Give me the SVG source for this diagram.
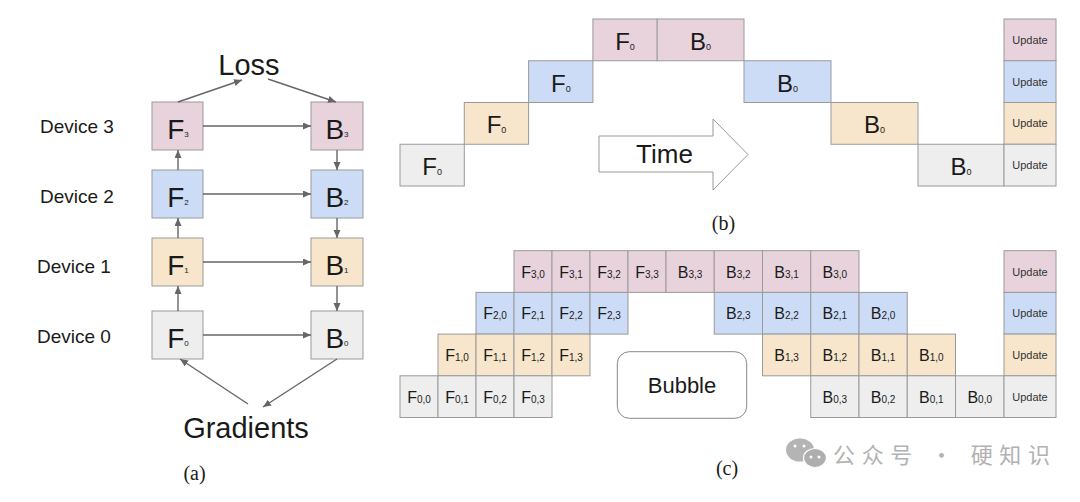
<svg xmlns="http://www.w3.org/2000/svg" width="1080" height="502" viewBox="0 0 1080 502">
<defs>
<style>
.pk{fill:#e8d3dc;stroke:#9a9a9a;stroke-width:1}
.bl{fill:#cddcf6;stroke:#9a9a9a;stroke-width:1}
.or{fill:#f7e6cb;stroke:#9a9a9a;stroke-width:1}
.gy{fill:#eeeeee;stroke:#9a9a9a;stroke-width:1}
text{font-family:"Liberation Sans",Arial,sans-serif;fill:#1a1a1a}
.a{font-size:28px;text-anchor:middle}
.b{font-size:24px;text-anchor:middle}
.c{font-size:16px;text-anchor:middle}
.s8{font-size:8px}
.s9{font-size:9px}
.s10{font-size:10px}
.up{font-size:11px;text-anchor:middle;fill:#333}
.dev{font-size:19px}
.big{font-size:29px;text-anchor:middle}
.cap{font-family:"Liberation Serif","Times New Roman",serif;font-size:20px;text-anchor:middle}
.ln{stroke:#666;stroke-width:1.4;fill:none;marker-end:url(#ah)}
</style>
<marker id="ah" markerUnits="userSpaceOnUse" markerWidth="9" markerHeight="8" refX="8" refY="3.5" orient="auto">
<path d="M0,0 L8,3.5 L0,7 z" fill="#666"/>
</marker>
</defs>
<rect width="1080" height="502" fill="#ffffff"/>

<!-- (a) -->
<g id="a-labels">
<text class="dev" x="40" y="133">Device 3</text>
<text class="dev" x="40" y="203">Device 2</text>
<text class="dev" x="37" y="273">Device 1</text>
<text class="dev" x="37" y="343">Device 0</text>
</g>
<g id="loss"><text class="big" x="249" y="75">Loss</text></g>
<g id="gradients"><text class="big" x="246" y="438">Gradients</text></g>
<g id="a-F3"><rect class="pk" x="152" y="102" width="51" height="48"/><text class="a" x="178" y="139">F<tspan class="s8" dy="-2">3</tspan></text></g>
<g id="a-F2"><rect class="bl" x="152" y="170" width="51" height="48"/><text class="a" x="178" y="207">F<tspan class="s8" dy="-2">2</tspan></text></g>
<g id="a-F1"><rect class="or" x="152" y="238" width="51" height="48"/><text class="a" x="178" y="275">F<tspan class="s8" dy="-2">1</tspan></text></g>
<g id="a-F0"><rect class="gy" x="152" y="311" width="51" height="48"/><text class="a" x="178" y="348">F<tspan class="s8" dy="-2">0</tspan></text></g>
<g id="a-B3"><rect class="pk" x="311" y="102" width="52" height="48"/><text class="a" x="337" y="139">B<tspan class="s8" dy="-2">3</tspan></text></g>
<g id="a-B2"><rect class="bl" x="311" y="170" width="52" height="48"/><text class="a" x="337" y="207">B<tspan class="s8" dy="-2">2</tspan></text></g>
<g id="a-B1"><rect class="or" x="311" y="238" width="52" height="48"/><text class="a" x="337" y="275">B<tspan class="s8" dy="-2">1</tspan></text></g>
<g id="a-B0"><rect class="gy" x="311" y="311" width="52" height="48"/><text class="a" x="337" y="348">B<tspan class="s8" dy="-2">0</tspan></text></g>
<g id="connectors">
<line class="ln" x1="203" y1="126" x2="311" y2="126"/>
<line class="ln" x1="203" y1="194" x2="311" y2="194"/>
<line class="ln" x1="203" y1="262" x2="311" y2="262"/>
<line class="ln" x1="203" y1="335" x2="311" y2="335"/>
<line class="ln" x1="178" y1="311" x2="178" y2="286"/>
<line class="ln" x1="178" y1="238" x2="178" y2="218"/>
<line class="ln" x1="178" y1="170" x2="178" y2="150"/>
<line class="ln" x1="337" y1="150" x2="337" y2="170"/>
<line class="ln" x1="337" y1="218" x2="337" y2="238"/>
<line class="ln" x1="337" y1="286" x2="337" y2="311"/>
<line class="ln" x1="178" y1="102" x2="242" y2="80"/>
<line class="ln" x1="268" y1="79" x2="336" y2="102"/>
<line class="ln" x1="248" y1="404" x2="180" y2="359"/>
<line class="ln" x1="337" y1="359" x2="263" y2="407"/>
</g>
<text class="cap" x="194.5" y="480">(a)</text>

<!-- (b) -->
<g id="b-F0-d0"><rect class="gy" x="400" y="144.25" width="64.3" height="41.75"/><text class="b" x="432.2" y="175">F<tspan class="s9">0</tspan></text></g>
<g id="b-F0-d1"><rect class="or" x="464.3" y="102.5" width="64.3" height="41.75"/><text class="b" x="496.5" y="133.3">F<tspan class="s9">0</tspan></text></g>
<g id="b-F0-d2"><rect class="bl" x="528.6" y="60.75" width="64.3" height="41.75"/><text class="b" x="560.8" y="91.5">F<tspan class="s9">0</tspan></text></g>
<g id="b-F0-d3"><rect class="pk" x="592.9" y="19" width="64.3" height="41.75"/><text class="b" x="625" y="49.8">F<tspan class="s9">0</tspan></text></g>
<g id="b-B0-d3"><rect class="pk" x="657.2" y="19" width="86.8" height="41.75"/><text class="b" x="700.6" y="49.8">B<tspan class="s9">0</tspan></text></g>
<g id="b-B0-d2"><rect class="bl" x="744" y="60.75" width="87" height="41.75"/><text class="b" x="787.5" y="91.5">B<tspan class="s9">0</tspan></text></g>
<g id="b-B0-d1"><rect class="or" x="831" y="102.5" width="87" height="41.75"/><text class="b" x="874.5" y="133.3">B<tspan class="s9">0</tspan></text></g>
<g id="b-B0-d0"><rect class="gy" x="918" y="144.25" width="86" height="41.75"/><text class="b" x="961" y="175">B<tspan class="s9">0</tspan></text></g>
<g id="b-U3"><rect class="pk" x="1004" y="19" width="52" height="41.75"/><text class="up" x="1030" y="43.8">Update</text></g>
<g id="b-U2"><rect class="bl" x="1004" y="60.75" width="52" height="41.75"/><text class="up" x="1030" y="85.5">Update</text></g>
<g id="b-U1"><rect class="or" x="1004" y="102.5" width="52" height="41.75"/><text class="up" x="1030" y="127.3">Update</text></g>
<g id="b-U0"><rect class="gy" x="1004" y="144.25" width="52" height="41.75"/><text class="up" x="1030" y="169">Update</text></g>
<g id="time-arrow"><polygon points="599,136 713,136 713,119 748,154.5 713,190 713,172 599,172" fill="#ffffff" stroke="#999" stroke-width="1"/><text x="664.5" y="163" style="font-size:26px;text-anchor:middle">Time</text></g>
<text class="cap" x="723.5" y="230">(b)</text>

<!-- (c) -->
<g id="c-row3">
<g id="c-F30"><rect class="pk" x="514" y="250.7" width="38" height="41.7"/><text class="c" x="533" y="277.5">F<tspan class="s10">3,0</tspan></text></g>
<g id="c-F31"><rect class="pk" x="552" y="250.7" width="38" height="41.7"/><text class="c" x="571" y="277.5">F<tspan class="s10">3,1</tspan></text></g>
<g id="c-F32"><rect class="pk" x="590" y="250.7" width="38" height="41.7"/><text class="c" x="609" y="277.5">F<tspan class="s10">3,2</tspan></text></g>
<g id="c-F33"><rect class="pk" x="628" y="250.7" width="38" height="41.7"/><text class="c" x="647" y="277.5">F<tspan class="s10">3,3</tspan></text></g>
<g id="c-B33"><rect class="pk" x="666" y="250.7" width="48.25" height="41.7"/><text class="c" x="690.1" y="277.5">B<tspan class="s10">3,3</tspan></text></g>
<g id="c-B32"><rect class="pk" x="714.25" y="250.7" width="48.25" height="41.7"/><text class="c" x="738.4" y="277.5">B<tspan class="s10">3,2</tspan></text></g>
<g id="c-B31"><rect class="pk" x="762.5" y="250.7" width="48.25" height="41.7"/><text class="c" x="786.6" y="277.5">B<tspan class="s10">3,1</tspan></text></g>
<g id="c-B30"><rect class="pk" x="810.75" y="250.7" width="48.25" height="41.7"/><text class="c" x="834.9" y="277.5">B<tspan class="s10">3,0</tspan></text></g>
<g id="c-U3"><rect class="pk" x="1004" y="250.7" width="52" height="41.7"/><text class="up" x="1030" y="275.5">Update</text></g>
</g>
<g id="c-row2">
<g id="c-F20"><rect class="bl" x="476" y="292.4" width="38" height="41.7"/><text class="c" x="495" y="319.2">F<tspan class="s10">2,0</tspan></text></g>
<g id="c-F21"><rect class="bl" x="514" y="292.4" width="38" height="41.7"/><text class="c" x="533" y="319.2">F<tspan class="s10">2,1</tspan></text></g>
<g id="c-F22"><rect class="bl" x="552" y="292.4" width="38" height="41.7"/><text class="c" x="571" y="319.2">F<tspan class="s10">2,2</tspan></text></g>
<g id="c-F23"><rect class="bl" x="590" y="292.4" width="38" height="41.7"/><text class="c" x="609" y="319.2">F<tspan class="s10">2,3</tspan></text></g>
<g id="c-B23"><rect class="bl" x="714.25" y="292.4" width="48.25" height="41.7"/><text class="c" x="738.4" y="319.2">B<tspan class="s10">2,3</tspan></text></g>
<g id="c-B22"><rect class="bl" x="762.5" y="292.4" width="48.25" height="41.7"/><text class="c" x="786.6" y="319.2">B<tspan class="s10">2,2</tspan></text></g>
<g id="c-B21"><rect class="bl" x="810.75" y="292.4" width="48.25" height="41.7"/><text class="c" x="834.9" y="319.2">B<tspan class="s10">2,1</tspan></text></g>
<g id="c-B20"><rect class="bl" x="859" y="292.4" width="48.25" height="41.7"/><text class="c" x="883.1" y="319.2">B<tspan class="s10">2,0</tspan></text></g>
<g id="c-U2"><rect class="bl" x="1004" y="292.4" width="52" height="41.7"/><text class="up" x="1030" y="317.2">Update</text></g>
</g>
<g id="c-row1">
<g id="c-F10"><rect class="or" x="438" y="334.1" width="38" height="41.7"/><text class="c" x="457" y="361">F<tspan class="s10">1,0</tspan></text></g>
<g id="c-F11"><rect class="or" x="476" y="334.1" width="38" height="41.7"/><text class="c" x="495" y="361">F<tspan class="s10">1,1</tspan></text></g>
<g id="c-F12"><rect class="or" x="514" y="334.1" width="38" height="41.7"/><text class="c" x="533" y="361">F<tspan class="s10">1,2</tspan></text></g>
<g id="c-F13"><rect class="or" x="552" y="334.1" width="38" height="41.7"/><text class="c" x="571" y="361">F<tspan class="s10">1,3</tspan></text></g>
<g id="c-B13"><rect class="or" x="762.5" y="334.1" width="48.25" height="41.7"/><text class="c" x="786.6" y="361">B<tspan class="s10">1,3</tspan></text></g>
<g id="c-B12"><rect class="or" x="810.75" y="334.1" width="48.25" height="41.7"/><text class="c" x="834.9" y="361">B<tspan class="s10">1,2</tspan></text></g>
<g id="c-B11"><rect class="or" x="859" y="334.1" width="48.25" height="41.7"/><text class="c" x="883.1" y="361">B<tspan class="s10">1,1</tspan></text></g>
<g id="c-B10"><rect class="or" x="907.25" y="334.1" width="48.25" height="41.7"/><text class="c" x="931.4" y="361">B<tspan class="s10">1,0</tspan></text></g>
<g id="c-U1"><rect class="or" x="1004" y="334.1" width="52" height="41.7"/><text class="up" x="1030" y="359">Update</text></g>
</g>
<g id="c-row0">
<g id="c-F00"><rect class="gy" x="400" y="375.8" width="38" height="41.7"/><text class="c" x="419" y="402.6">F<tspan class="s10">0,0</tspan></text></g>
<g id="c-F01"><rect class="gy" x="438" y="375.8" width="38" height="41.7"/><text class="c" x="457" y="402.6">F<tspan class="s10">0,1</tspan></text></g>
<g id="c-F02"><rect class="gy" x="476" y="375.8" width="38" height="41.7"/><text class="c" x="495" y="402.6">F<tspan class="s10">0,2</tspan></text></g>
<g id="c-F03"><rect class="gy" x="514" y="375.8" width="38" height="41.7"/><text class="c" x="533" y="402.6">F<tspan class="s10">0,3</tspan></text></g>
<g id="c-B03"><rect class="gy" x="810.75" y="375.8" width="48.25" height="41.7"/><text class="c" x="834.9" y="402.6">B<tspan class="s10">0,3</tspan></text></g>
<g id="c-B02"><rect class="gy" x="859" y="375.8" width="48.25" height="41.7"/><text class="c" x="883.1" y="402.6">B<tspan class="s10">0,2</tspan></text></g>
<g id="c-B01"><rect class="gy" x="907.25" y="375.8" width="48.25" height="41.7"/><text class="c" x="931.4" y="402.6">B<tspan class="s10">0,1</tspan></text></g>
<g id="c-B00"><rect class="gy" x="955.5" y="375.8" width="48.5" height="41.7"/><text class="c" x="979.7" y="402.6">B<tspan class="s10">0,0</tspan></text></g>
<g id="c-U0"><rect class="gy" x="1004" y="375.8" width="52" height="41.7"/><text class="up" x="1030" y="400.6">Update</text></g>
</g>
<g id="bubble"><rect x="617.3" y="351.7" width="129.4" height="66.6" rx="12" fill="#ffffff" stroke="#888" stroke-width="1"/><text x="682" y="393" style="font-size:22px;text-anchor:middle">Bubble</text></g>
<text class="cap" x="727" y="475">(c)</text>

<!-- watermark -->
<g id="watermark" opacity="0.85">
<ellipse cx="800" cy="450" rx="14" ry="11.5" fill="#a8a8a8"/>
<ellipse cx="815" cy="458" rx="11.5" ry="9.5" fill="#a0a0a0" stroke="#ffffff" stroke-width="1.2"/>
<circle cx="811" cy="457" r="1.5" fill="#fff"/><circle cx="819" cy="457" r="1.5" fill="#fff"/>
<circle cx="795" cy="446" r="1.5" fill="#fff"/><circle cx="804" cy="446" r="1.5" fill="#fff"/>
<text x="833" y="463" style="font-family:'Noto Sans CJK SC',sans-serif;font-size:22px;fill:#a5a5a5" textLength="217" lengthAdjust="spacing">公众号 · 硬知识</text>
</g>
</svg>
